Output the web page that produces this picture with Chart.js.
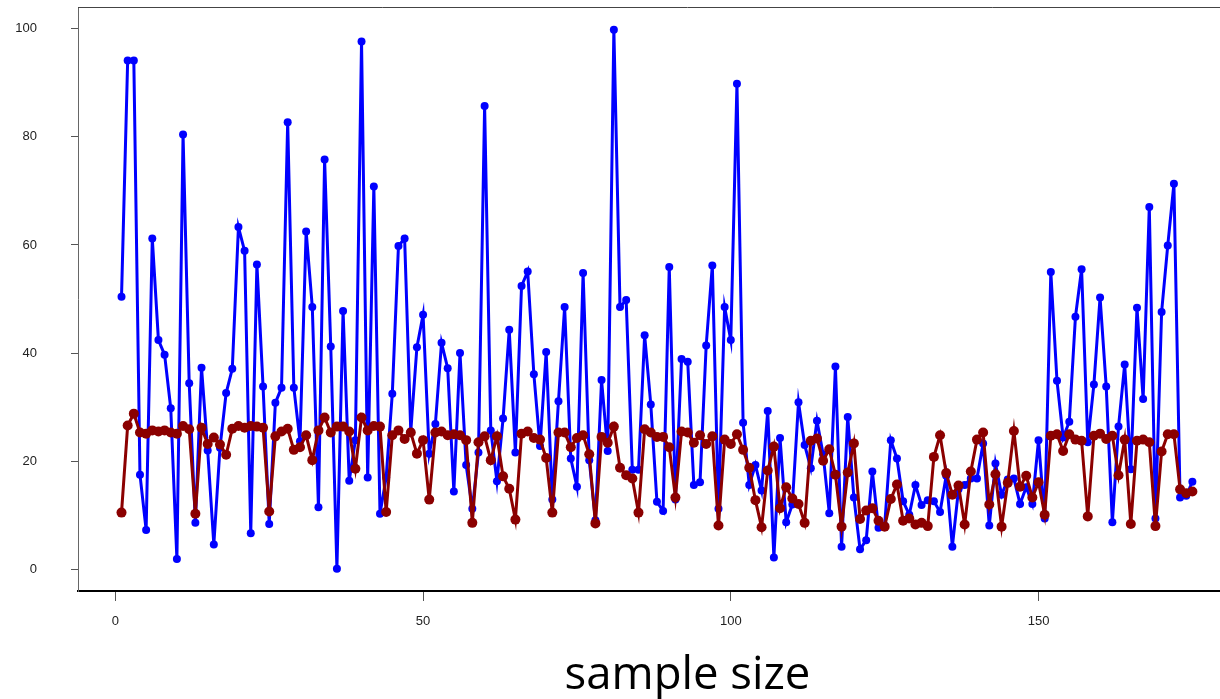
<!DOCTYPE html>
<html><head><meta charset="utf-8">
<script src="https://cdn.jsdelivr.net/npm/chart.js@4"></script>
<style>
html,body{margin:0;padding:0;background:#fff;width:1220px;height:699px;overflow:hidden;}
#wrap{position:absolute;left:0;top:0;width:1302px;height:699px;}
</style></head><body>
<div id="wrap"><canvas id="c" width="1302" height="699"></canvas></div>
<script>
const blueSeries = [
 50.4, 94.1, 94.1, 17.5, 7.3, 61.2, 42.4, 39.7, 29.8, 1.9,
 80.4, 34.4, 8.6, 37.3, 22.0, 4.6, 22.5, 32.6, 37.1, 63.3,
 58.9, 6.7, 56.4, 33.8, 8.4, 30.8, 33.6, 82.7, 33.6, 23.7,
 62.5, 48.5, 11.5, 75.8, 41.2, 0.1, 47.8, 16.4, 23.9, 97.6,
 17.0, 70.8, 10.3, 17.0, 32.5, 59.8, 61.2, 25.5, 41.1, 47.1,
 21.4, 26.9, 41.9, 37.2, 14.4, 40.0, 19.3, 11.2, 21.6, 85.7,
 25.7, 16.3, 27.9, 44.3, 21.6, 52.4, 55.1, 36.1, 22.8, 40.2,
 12.9, 31.1, 48.5, 20.5, 15.3, 54.8, 20.2, 9.1, 35.0, 21.9,
 99.8, 48.5, 49.8, 18.4, 18.4, 43.3, 30.5, 12.5, 10.8, 55.9,
 12.9, 38.9, 38.4, 15.6, 16.1, 41.4, 56.2, 11.2, 48.5, 42.4,
 89.8, 27.1, 15.6, 19.3, 14.6, 29.3, 2.2, 24.3, 8.7, 12.0,
 30.9, 23.0, 18.7, 27.5, 21.3, 10.4, 37.5, 4.2, 28.2, 13.3,
 3.7, 5.4, 18.1, 7.7, 8.1, 23.9, 20.5, 12.6, 10.1, 15.6,
 11.9, 12.8, 12.6, 10.6, 17.3, 4.2, 14.8, 15.6, 16.8, 16.8,
 23.3, 8.1, 19.6, 13.8, 16.6, 16.8, 12.1, 15.2, 12.1, 23.9,
 9.4, 55.0, 34.9, 24.4, 27.3, 46.7, 55.5, 23.5, 34.2, 50.3,
 33.8, 8.7, 26.4, 37.9, 18.5, 48.4, 31.5, 67.0, 9.4, 47.6,
 59.9, 71.3, 13.3, 13.6, 16.2
];
const redSeries = [
 10.5, 26.6, 28.8, 25.3, 25.1, 25.7, 25.5, 25.7, 25.3, 25.1,
 26.5, 25.9, 10.3, 26.2, 23.2, 24.4, 23.1, 21.2, 26.0, 26.5,
 26.2, 26.5, 26.4, 26.2, 10.7, 24.6, 25.5, 26.0, 22.1, 22.6,
 24.8, 20.2, 25.7, 28.1, 25.3, 26.4, 26.4, 25.5, 18.6, 28.1,
 25.7, 26.5, 26.4, 10.6, 24.8, 25.7, 24.1, 25.3, 21.4, 23.9,
 12.9, 25.3, 25.5, 24.8, 25.0, 24.8, 23.9, 8.6, 23.5, 24.6,
 20.2, 24.6, 17.2, 14.9, 9.2, 25.1, 25.5, 24.3, 24.0, 20.6,
 10.5, 25.3, 25.3, 22.6, 24.3, 24.8, 21.3, 8.5, 24.5, 23.4,
 26.4, 18.8, 17.4, 16.8, 10.5, 25.9, 25.3, 24.5, 24.5, 22.6,
 13.3, 25.5, 25.3, 23.4, 24.8, 23.2, 24.6, 8.1, 24.0, 23.2,
 25.0, 22.1, 18.8, 12.8, 7.8, 18.3, 22.7, 11.3, 15.2, 13.1,
 12.1, 8.6, 23.8, 24.2, 20.1, 22.2, 17.5, 7.9, 17.9, 23.3,
 9.3, 10.9, 11.3, 9.0, 7.9, 13.0, 15.7, 9.0, 9.4, 8.3,
 8.6, 8.0, 20.8, 24.8, 17.8, 13.8, 15.5, 8.3, 18.1, 24.0,
 25.3, 12.0, 17.6, 7.9, 16.0, 25.6, 15.3, 17.3, 13.3, 16.1,
 10.1, 24.7, 25.0, 21.9, 25.0, 24.0, 23.8, 9.8, 24.7, 25.1,
 24.1, 24.7, 17.4, 24.0, 8.4, 23.8, 24.0, 23.5, 8.0, 21.8,
 25.0, 25.0, 14.8, 14.1, 14.4
];
const xTickValues = [0, 50, 100, 150];
const yTickValues = [0, 20, 40, 60, 80, 100];
const xAxisTitle = 'sample size';

const toPoints = arr => arr.map((v, i) => ({ x: i + 1, y: v }));

const topBorder = {
  id: 'topBorder',
  afterDraw(chart) {
    const { ctx, chartArea } = chart;
    ctx.save();
    ctx.strokeStyle = '#444';
    ctx.lineWidth = 1;
    ctx.beginPath();
    ctx.moveTo(chartArea.left, chartArea.top + 0.5);
    ctx.lineTo(chartArea.right, chartArea.top + 0.5);
    ctx.stroke();
    ctx.restore();
  }
};

const noPad = s => { s.paddingTop = 0; s.paddingBottom = 0; s.paddingLeft = 0; s.paddingRight = 0; };

new Chart(document.getElementById('c'), {
  type: 'line',
  data: {
    datasets: [
      { label: 'red', data: toPoints(redSeries), borderColor: '#8B0000', backgroundColor: '#8B0000',
        borderWidth: 3, pointRadius: 5, pointBorderWidth: 0, pointHoverRadius: 5, tension: 0, order: 1 },
      { label: 'blue', data: toPoints(blueSeries), borderColor: '#0000FF', backgroundColor: '#0000FF',
        borderWidth: 3, pointRadius: 4, pointBorderWidth: 0, pointHoverRadius: 4, tension: 0, order: 2 }
    ]
  },
  options: {
    responsive: false,
    animation: false,
    events: [],
    layout: { padding: { top: 7, left: 0, right: 0, bottom: 0 } },
    plugins: { legend: { display: false }, tooltip: { enabled: false } },
    scales: {
      x: {
        type: 'linear', min: -6.07, max: 192.0,
        afterBuildTicks: s => { s.ticks = xTickValues.map(v => ({ value: v })); },
        afterFit: s => { s.height = 108; noPad(s); },
        grid: { drawOnChartArea: false, drawTicks: true, tickLength: 10, color: '#555', lineWidth: 1 },
        border: { display: true, color: '#000', width: 2 },
        ticks: { font: { family: 'Liberation Sans, Arial, sans-serif', size: 13 }, color: '#222',
                 padding: 13, autoSkip: false, maxRotation: 0 },
        title: { display: true, text: xAxisTitle, color: '#000',
                 font: { family: 'Open Sans, sans-serif', size: 45.5, lineHeight: 1 },
                 padding: { top: 0, bottom: 0 } }
      },
      y: {
        type: 'linear', min: -4, max: 104,
        afterBuildTicks: s => { s.ticks = yTickValues.map(v => ({ value: v })); },
        afterFit: s => { s.width = 78; noPad(s); },
        grid: { drawOnChartArea: false, drawTicks: true, tickLength: 7, color: '#555', lineWidth: 1 },
        border: { display: true, color: '#666', width: 1 },
        ticks: { font: { family: 'Liberation Sans, Arial, sans-serif', size: 13 }, color: '#222', padding: 34 }
      }
    }
  },
  plugins: [topBorder]
});
</script>
</body></html>
